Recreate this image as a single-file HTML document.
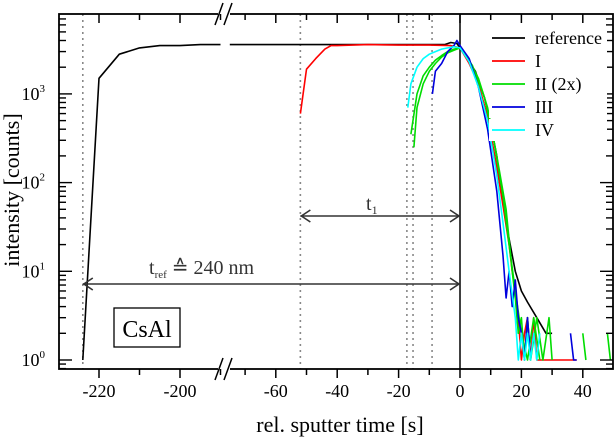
<!DOCTYPE html>
<html><head><meta charset="utf-8"><style>
html,body{margin:0;padding:0;background:#fff;}
svg{display:block;font-family:"Liberation Serif",serif;}
</style></head><body>
<svg id="chart" width="616" height="439" viewBox="0 0 616 439" xmlns="http://www.w3.org/2000/svg">
<defs><clipPath id="pc"><rect x="59" y="14" width="554" height="355"/></clipPath></defs>
<g id="marks" clip-path="url(#pc)"></g>
<g id="axes"></g>
</svg>
<script>
const refT=[-224,-220,-215,-210,-205,-200,-195,-190,null,-75,-60,-40,-20,-5,-3,-1,0,3,5,8,10,12,13,15,18,20,22,25,28,30];
const refV=[1,1500,2800,3300,3500,3500,3600,3600,null,3600,3600,3600,3600,3600,3800,3700,3300,2300,1800,900,450,200,100,35,10,6,4.5,3,2,2];
const redT=[-52,-50,-47,-44,-42,-40,-30,-20,-10,-3,0,3,6,9,12,14,16,17,18,19,20,21,22,23,24,25,26,28,38];
const redV=[600,1900,2500,3200,3500,3500,3600,3550,3550,3500,3300,2200,1300,550,150,55,20,10,6,3,1,2,3,1,3,1,1,1,1];
const g1T=[-16,-14,-12,-10,-8,-6,-4,-2,0,3,6,9,12,15,17,18,19,20,21,22,23,25,27,29,30];
const g1V=[350,1000,1600,2000,2400,2700,3000,3200,3300,2400,1500,700,200,50,10,5,2,3,1,3,1,3,1,3,1];
const g2T=[-15,-14,-12,-10,-8,-6,-4,-2,0,4,8,11,14,16,18,20,22,24,26,null,40,41,null,48,49];
const g2V=[250,700,1300,1800,2200,2600,2900,3100,3300,2100,900,300,70,20,6,2,1,3,1,null,2,1,null,2,1];
const blueT=[-9,-8,-6,-4,-2,-1,0,3,6,9,12,14,15,16,17,18,19,20,21,22,23];
const blueV=[1000,1800,2200,3000,3500,4000,3500,2500,1200,400,80,15,5,10,4,8,3,2,1,3,1];
const blue2T=[36,37,38];
const blue2V=[2,1,1];
const cyanT=[-17,-16,-14,-12,-10,-8,-6,-4,-2,0,3,6,9,12,14,16,18,19,20,21,22,23,24,25,26];
const cyanV=[700,1300,2000,2500,2800,3000,3200,3300,3400,3300,2300,1200,500,120,35,10,3,1,2,1,2,1,2,1,2];
const dotT=[-224,-52,-17.3,-15.3,-9.1];
const xTicksLeft=[-230,-220,-210,-200,-190];
const xTicksRight=[-70,-60,-50,-40,-30,-20,-10,0,10,20,30,40,50];
const xLabels=[-220,-200,-60,-40,-20,0,20,40];
const yDecades=[0,1,2,3];
const legendNames=["reference","I","II (2x)","III","IV"];
const legendColors=["#000","#f00","#0d0","#00d","#0ff"];

const NS="http://www.w3.org/2000/svg";
function X(t){return t<-100?99+(t+220)*4.05:460+t*3.07;}
function Y(v){return 360-88.7*Math.log10(v);}
const marks=document.getElementById('marks'), axes=document.getElementById('axes');
function el(tag,attrs,parent){const e=document.createElementNS(NS,tag);for(const k in attrs)e.setAttribute(k,attrs[k]);parent.appendChild(e);return e;}

dotT.forEach(t=>{const l=el('line',{x1:X(t),x2:X(t),y1:14,y2:369,stroke:'#888','stroke-width':1.6,'stroke-dasharray':'2,4'},marks);

});
const z=el('line',{x1:X(0),x2:X(0),y1:14,y2:369,stroke:'#000','stroke-width':1.5},marks);



function series(T,V,color,name){let d='',pen=false;
 for(let i=0;i<T.length;i++){if(T[i]===null){pen=false;continue;}d+=(pen?'L':'M')+X(T[i]).toFixed(1)+','+Y(V[i]).toFixed(1);pen=true;}
 const p=el('path',{d:d,fill:'none',stroke:color,'stroke-width':1.6,'stroke-linejoin':'round'},marks);
 
 }
series(refT,refV,'#000','series-reference');
series(redT,redV,'#f00','series-I');
series(g1T,g1V,'#0d0','series-II-a');
series(g2T,g2V,'#0d0','series-II-b');
series(blueT,blueV,'#00d','series-III');
series(blue2T,blue2V,'#00d','series-III-tail');
series(cyanT,cyanV,'#0ff','series-IV');

function arrow(x1,x2,y,name){const g=el('g',{stroke:'#333','stroke-width':1.6,fill:'none'},marks);
 
 
 el('line',{x1:x1,x2:x2,y1:y,y2:y},g);
 el('path',{d:`M${x1+10},${y-6}L${x1+1},${y}L${x1+10},${y+6}M${x2-10},${y-6}L${x2-1},${y}L${x2-10},${y+6}`},g);}
arrow(X(-52),X(0),216,'t1-arrow');
arrow(X(-224),X(0),284,'tref-arrow');
let t=el('text',{x:366,y:210,'font-size':20,fill:'#333'},axes);t.innerHTML='t<tspan font-size="12" dy="4">1</tspan>';


t=el('text',{x:149,y:274,'font-size':20,fill:'#333'},axes);t.innerHTML='t<tspan font-size="11" dy="4">ref</tspan><tspan dy="-4"> ≙ 240 nm</tspan>';


const bx=el('rect',{x:114,y:308,width:66,height:39,fill:'#fff',stroke:'#000','stroke-width':1.3},axes);


t=el('text',{x:147,y:337,'font-size':24,'text-anchor':'middle'},axes);t.textContent='CsAl';



const fr=el('rect',{x:59,y:14,width:554,height:355,fill:'none',stroke:'#000','stroke-width':1.8},axes);


[14,369].forEach(y=>{el('rect',{x:218,y:y-3,width:12,height:6,fill:'#fff'},axes);
 const b=el('path',{d:`M${215},${y+11}L${223},${y-11}M${224},${y+11}L${232},${y-11}`,stroke:'#000','stroke-width':1.5,fill:'none'},axes);
 
 });
xTicksLeft.concat(xTicksRight).forEach(v=>{const x=X(v);if(x<60||x>612)return;const major=xLabels.includes(v);const L=major?9:6;
 el('line',{x1:x,x2:x,y1:369,y2:369+L,stroke:'#000','stroke-width':1.5},axes);
 el('line',{x1:x,x2:x,y1:14,y2:14+L,stroke:'#000','stroke-width':1.5},axes);});
xLabels.forEach(v=>{const tx=el('text',{x:X(v),y:397,'font-size':18,'text-anchor':'middle'},axes);tx.textContent=String(v);
 
 });
for(let d=-1;d<=3;d++){for(let m=1;m<=9;m++){const v=m*Math.pow(10,d);const y=Y(v);if(y<14||y>369)continue;const L=m===1?13:7;
 el('line',{x1:59,x2:59+L,y1:y,y2:y,stroke:'#000','stroke-width':1.4},axes);
 el('line',{x1:613-L,x2:613,y1:y,y2:y,stroke:'#000','stroke-width':1.4},axes);}}
yDecades.forEach(d=>{const tx=el('text',{x:45,y:Y(Math.pow(10,d))+6,'font-size':18,'text-anchor':'end'},axes);
 tx.innerHTML='10<tspan font-size="11" dy="-8">'+d+'</tspan>';
 
 });
t=el('text',{x:340,y:432,'font-size':22,'text-anchor':'middle'},axes);t.textContent='rel. sputter time [s]';


t=el('text',{x:0,y:0,'font-size':22,'text-anchor':'middle',transform:'translate(19,190) rotate(-90)'},axes);t.textContent='intensity [counts]';


legendNames.forEach((n,i)=>{const y=38+i*23;const g=el('g',{},axes);
 
 
 el('rect',{x:489,y:y-11,width:118,height:22,fill:'#fff'},g);
 el('line',{x1:492,x2:525,y1:y,y2:y,stroke:legendColors[i],'stroke-width':1.8},g);
 const tx=el('text',{x:535,y:y+6,'font-size':18},g);tx.textContent=n;});
</script>
</body></html>
